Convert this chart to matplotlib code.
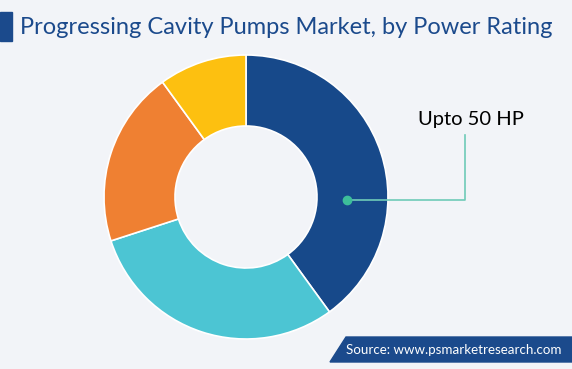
import matplotlib
matplotlib.use("Agg")
import matplotlib.pyplot as plt
from matplotlib.patches import Rectangle, Polygon

segments = ["Upto 50 HP", "51-150 HP", "151-300 HP", "Above 300 HP"]
shares = [40, 30, 20, 10]
colors = ["#17498A", "#4CC5D3", "#EF8032", "#FDC010"]
title = "Progressing Cavity Pumps Market, by Power Rating"
source = "Source: www.psmarketresearch.com"

W, H = 572, 369
bg = "#F2F4F8"
fig = plt.figure(figsize=(W / 100, H / 100), dpi=100, facecolor=bg)
ax = fig.add_axes([0, 0, 1, 1])
ax.set_facecolor(bg)

cx, cy, r = 246, H - 197, 142
ax.pie(shares, colors=colors, startangle=90, counterclock=False,
       center=(cx, cy), radius=r, frame=True,
       wedgeprops=dict(width=r * 0.5, edgecolor="white", linewidth=1.2))
ax.set_xlim(0, W)
ax.set_ylim(0, H)
ax.set_aspect("equal")
ax.axis("off")

# title
ax.add_patch(Rectangle((0, H - 41), 12, 29, color="#1B4A8C", zorder=5))
ax.text(20, H - 27, title, fontsize=17, color="#1B4A8C", family="Lato",
        va="center", ha="left", zorder=5)

# annotation
lc = "#6FCBB8"
ax.plot([347, 465, 465], [H - 200, H - 200, H - 135], color=lc, lw=1.2, zorder=6)
ax.plot([347], [H - 200], "o", color="#3DBE9A", ms=6, zorder=7)
ax.text(471, H - 120, segments[0], fontsize=14.5, color="black", family="Lato",
        ha="center", va="center", zorder=6)

# source box
ax.add_patch(Polygon([(330, H - 362), (346, H - 337), (W, H - 337), (W, H - 362)],
                     closed=True, color="#1B4A8C", zorder=5))
ax.text(454, H - 349.5, source, fontsize=9.6, color="white", family="Lato",
        ha="center", va="center", zorder=6)

fig.savefig("out.png", dpi=100, facecolor=bg)
